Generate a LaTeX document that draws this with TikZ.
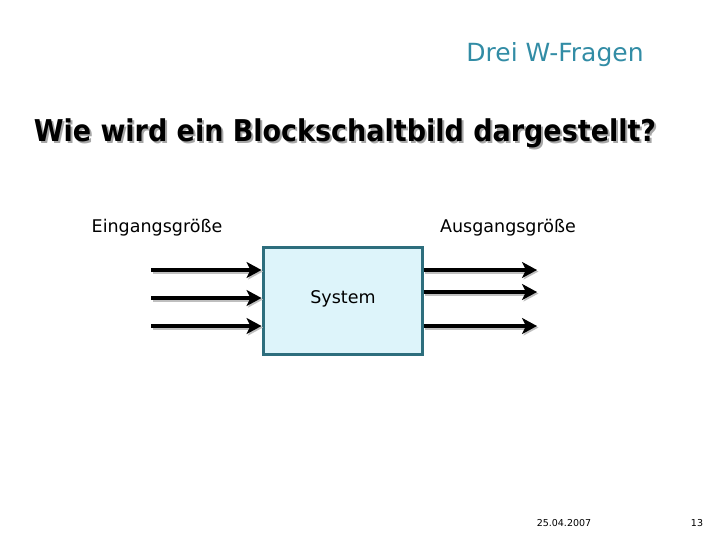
\documentclass[tikz,border=0pt]{standalone}
\usepackage{fontspec}
\setmainfont{DejaVu Sans}
\newfontfamily\condbold{DejaVu Sans Condensed Bold}
\usetikzlibrary{arrows.meta}
\definecolor{teal}{RGB}{50,140,165}
\definecolor{boxfill}{RGB}{221,244,250}
\definecolor{boxline}{RGB}{45,110,125}
\tikzset{
  signal/.style={line width=4.5pt, -{Stealth[length=15pt, width=16pt, inset=4pt]}},
  shade/.style={signal, black!25, transform canvas={shift={(1.5pt,-1.5pt)}}},
  label/.style={font=\fontsize{17.5}{20}\selectfont},
  foot/.style={font=\fontsize{9.5}{11}\selectfont}
}
\begin{document}
\begin{tikzpicture}[x=1pt, y=-1pt]
    \useasboundingbox (0, 0) rectangle (720, 540) ;
    \node[text=teal, font=\fontsize{25}{28}\selectfont] (head) at (555, 55) {Drei W-Fragen} ;
    \node[text=black!35, font=\condbold\fontsize{30}{34}\selectfont] (titleshade) at (347, 135) {Wie wird ein Blockschaltbild dargestellt?} ;
    \node[font=\condbold\fontsize{30}{34}\selectfont] (title) at (345, 133) {Wie wird ein Blockschaltbild dargestellt?} ;
    \node[label] (in) at (157, 228) {Eingangsgröße} ;
    \node[label] (out) at (508, 228) {Ausgangsgröße} ;
    \node[draw=boxline, fill=boxfill, line width=3pt, minimum width=159pt, minimum height=107pt,
      label] (sys) at (342.5, 300.5) {} ;
    \node[label] (systxt) at (343, 299) {System} ;
    % Eingang
    \coordinate (i1) at (151, 270) ;
    \coordinate (i2) at (151, 298) ;
    \coordinate (i3) at (151, 326) ;
    \foreach \p in {i1, i2, i3} {
      \draw[shade] (\p) -- (sys.west |- \p) ;
      \draw[signal] (\p) -- (sys.west |- \p) ;
    }
    % Ausgang
    \coordinate (o1) at (537, 270) ;
    \coordinate (o2) at (537, 292) ;
    \coordinate (o3) at (537, 326) ;
    \foreach \p in {o1, o2, o3} {
      \draw[shade] (sys.east |- \p) -- (\p) ;
      \draw[signal] (sys.east |- \p) -- (\p) ;
    }
    \node[foot] (date) at (564, 523) {25.04.2007} ;
    \node[foot] (page) at (697, 523) {13} ;
  \end{tikzpicture}
\end{document}
